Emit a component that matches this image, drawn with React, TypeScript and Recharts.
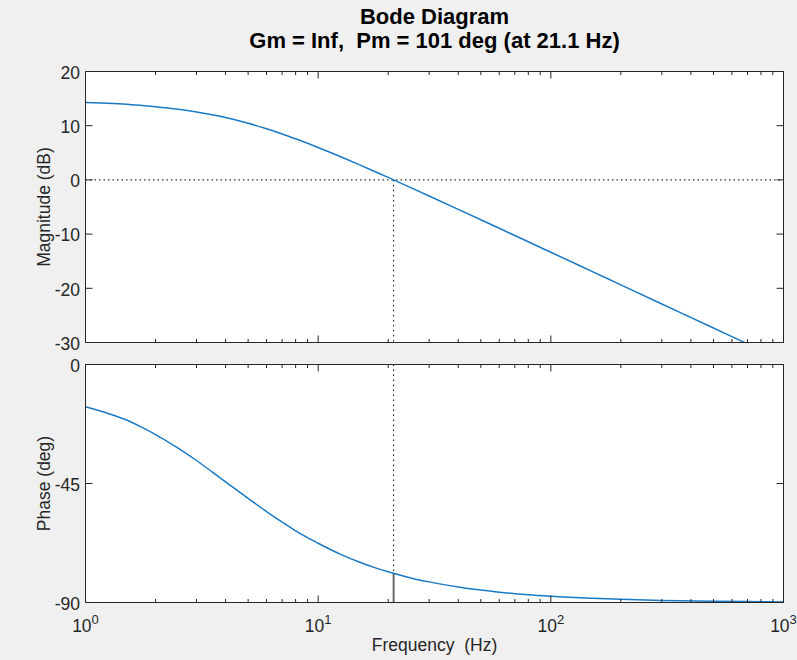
import React from 'react';
import { LineChart, Line, XAxis, YAxis, ReferenceLine, CartesianGrid } from 'recharts';

// ---- data ----
const freqHz = [1, 1.25, 1.5, 1.75, 2, 2.5, 3, 3.5, 4, 5, 6, 7, 8, 10, 12.5, 15, 17.5, 20, 25, 30, 40, 50, 60, 80, 100, 150, 200, 300, 500, 700, 1000];
const magnitudeDb = [14.28, 14.13, 13.95, 13.72, 13.5, 13.04, 12.54, 12.03, 11.5, 10.44, 9.43, 8.48, 7.58, 5.98, 4.27, 2.82, 1.55, 0.46, -1.42, -2.97, -5.43, -7.35, -8.93, -11.42, -13.35, -16.87, -19.37, -22.89, -27.32, -30.25, -33.3];
const phaseDeg = [-16.0, -18.5, -21.0, -23.8, -26.5, -31.6, -36.3, -40.6, -44.4, -50.6, -55.6, -59.6, -62.9, -67.6, -71.8, -74.7, -76.8, -78.4, -80.7, -82.2, -84.1, -85.3, -86.1, -87.1, -87.65, -88.4, -88.8, -89.2, -89.5, -89.66, -89.77];

const freqTicks = [1, 2, 3, 4, 5, 6, 7, 8, 9, 10, 20, 30, 40, 50, 60, 70, 80, 90, 100, 200, 300, 400, 500, 600, 700, 800, 900, 1000];
const decadeTicks = [1, 10, 100, 1000];
const decadeExponents = ['0', '1', '2', '3'];
const magTicks = [-30, -20, -10, 0, 10, 20];
const phaseTicks = [-90, -45, 0];
const freqDomain = [1, 1000];
const magDomain = [-30, 20];
const phaseDomain = [-90, 0];
const crossoverHz = 21.1;
const phaseAtCrossover = -78.9;

const titleLines = ['Bode Diagram', 'Gm = Inf,  Pm = 101 deg (at 21.1 Hz)'];
const magLabel = 'Magnitude (dB)';
const phaseLabel = 'Phase (deg)';
const freqLabel = 'Frequency  (Hz)';

const data = freqHz.map((f, i) => ({ f, mag: magnitudeDb[i], phase: phaseDeg[i] }));

// ---- layout / style ----
const W = 797;
const H = 660;
const PLOT_LEFT = 85.5;
const PLOT_RIGHT = 783.5;
const FONT = "'Liberation Sans', Arial, Helvetica, sans-serif";
const INK = '#262626';
const BLUE = '#1a7ac6';
const TICK_FS = 17.5;

function makeXTick(side: 'bottom' | 'top', showLabel: boolean) {
  return (props: any) => {
    const { x, y, payload } = props;
    const v = payload.value;
    const di = decadeTicks.indexOf(v);
    const len = di >= 0 ? 7 : 3.5;
    const dir = side === 'bottom' ? -1 : 1;
    return (
      <g>
        <line x1={x} x2={x} y1={y} y2={y + dir * len} stroke={INK} strokeWidth={1} />
        {showLabel && di >= 0 && (
          <text x={x} y={y + 29} textAnchor="middle" fontFamily={FONT} fontSize={TICK_FS} fill={INK}>
            10
            <tspan dy={-8} fontSize={13}>
              {decadeExponents[di]}
            </tspan>
          </text>
        )}
      </g>
    );
  };
}

function makeYTick(side: 'left' | 'right') {
  return (props: any) => {
    const { x, y, payload } = props;
    const dir = side === 'left' ? 1 : -1;
    return (
      <g>
        <line x1={x} x2={x + dir * 7} y1={y} y2={y} stroke={INK} strokeWidth={1} />
        {side === 'left' && (
          <text x={x - 5.5} y={y} dy="0.42em" textAnchor="end" fontFamily={FONT} fontSize={TICK_FS} fill={INK}>
            {payload.value}
          </text>
        )}
      </g>
    );
  };
}

function Panel(props: {
  top: number;
  bottom: number;
  dataKey: string;
  domain: number[];
  yTicks: number[];
  showXLabels: boolean;
  children?: React.ReactNode;
}) {
  const { top, bottom, dataKey, domain, yTicks, showXLabels, children } = props;
  return (
    <div style={{ position: 'absolute', left: 0, top: 0 }}>
      <LineChart
        width={W}
        height={H}
        data={data}
        margin={{ top: top - 1, bottom: H - bottom - 1, left: PLOT_LEFT - 1, right: W - PLOT_RIGHT - 1 }}
      >
        <CartesianGrid fill="#ffffff" stroke="none" horizontal={false} vertical={false} />
        <XAxis
          dataKey="f"
          type="number"
          scale="log"
          domain={freqDomain}
          ticks={freqTicks}
          interval={0}
          allowDataOverflow
          height={1}
          tickSize={0}
          tickMargin={0}
          tickLine={false}
          axisLine={{ stroke: INK }}
          tick={makeXTick('bottom', showXLabels)}
        />
        <XAxis
          xAxisId="top"
          orientation="top"
          dataKey="f"
          type="number"
          scale="log"
          domain={freqDomain}
          ticks={freqTicks}
          interval={0}
          allowDataOverflow
          height={1}
          tickSize={0}
          tickMargin={0}
          tickLine={false}
          axisLine={{ stroke: INK }}
          tick={makeXTick('top', false)}
        />
        <YAxis
          type="number"
          domain={domain}
          ticks={yTicks}
          interval={0}
          allowDataOverflow
          width={1}
          tickSize={0}
          tickMargin={0}
          tickLine={false}
          axisLine={{ stroke: INK }}
          tick={makeYTick('left')}
        />
        <YAxis
          yAxisId="right"
          orientation="right"
          type="number"
          domain={domain}
          ticks={yTicks}
          interval={0}
          allowDataOverflow
          width={1}
          tickSize={0}
          tickMargin={0}
          tickLine={false}
          axisLine={{ stroke: INK }}
          tick={makeYTick('right')}
        />
        {children}
        <Line
          dataKey={dataKey}
          type="monotone"
          stroke={BLUE}
          strokeWidth={1.5}
          dot={false}
          activeDot={false}
          isAnimationActive={false}
        />
        <Line
          xAxisId="top"
          yAxisId="right"
          dataKey={dataKey}
          stroke="none"
          dot={false}
          activeDot={false}
          isAnimationActive={false}
        />
      </LineChart>
    </div>
  );
}

export default function App() {
  return (
    <div
      style={{
        position: 'absolute',
        left: 0,
        top: 0,
        width: W,
        height: H,
        background: '#f0f0f0',
        overflow: 'hidden',
      }}
    >
      <Panel top={71.5} bottom={342.5} dataKey="mag" domain={magDomain} yTicks={magTicks} showXLabels={false}>
        <ReferenceLine y={0} stroke="#000" strokeWidth={1} strokeDasharray="1.5 3" />
        <ReferenceLine
          segment={[
            { x: crossoverHz, y: 0 },
            { x: crossoverHz, y: magDomain[0] },
          ]}
          stroke="#000"
          strokeWidth={1}
          strokeDasharray="1.5 3.5"
        />
      </Panel>
      <Panel top={364.5} bottom={602.5} dataKey="phase" domain={phaseDomain} yTicks={phaseTicks} showXLabels={true}>
        <ReferenceLine
          segment={[
            { x: crossoverHz, y: phaseDomain[1] },
            { x: crossoverHz, y: phaseAtCrossover },
          ]}
          stroke="#000"
          strokeWidth={1}
          strokeDasharray="1.5 3.5"
        />
        <ReferenceLine
          segment={[
            { x: crossoverHz, y: phaseAtCrossover },
            { x: crossoverHz, y: phaseDomain[0] },
          ]}
          stroke="#6a6a6a"
          strokeWidth={2}
        />
      </Panel>
      <svg
        width={W}
        height={H}
        style={{ position: 'absolute', left: 0, top: 0, pointerEvents: 'none' }}
      >
        <text x={434.5} y={23.5} textAnchor="middle" fontFamily={FONT} fontSize={22} fontWeight="bold" fill="#000" style={{ whiteSpace: 'pre' }}>
          {titleLines[0]}
        </text>
        <text x={434.5} y={48.3} textAnchor="middle" fontFamily={FONT} fontSize={22} fontWeight="bold" fill="#000" style={{ whiteSpace: 'pre' }}>
          {titleLines[1]}
        </text>
        <text
          x={49.5}
          y={207}
          transform="rotate(-90 49.5 207)"
          textAnchor="middle"
          fontFamily={FONT}
          fontSize={TICK_FS}
          fill={INK}
        >
          {magLabel}
        </text>
        <text
          x={49.5}
          y={483.5}
          transform="rotate(-90 49.5 483.5)"
          textAnchor="middle"
          fontFamily={FONT}
          fontSize={TICK_FS}
          fill={INK}
        >
          {phaseLabel}
        </text>
        <text x={434.5} y={651} textAnchor="middle" fontFamily={FONT} fontSize={TICK_FS} fill={INK} style={{ whiteSpace: 'pre' }}>
          {freqLabel}
        </text>
      </svg>
    </div>
  );
}
